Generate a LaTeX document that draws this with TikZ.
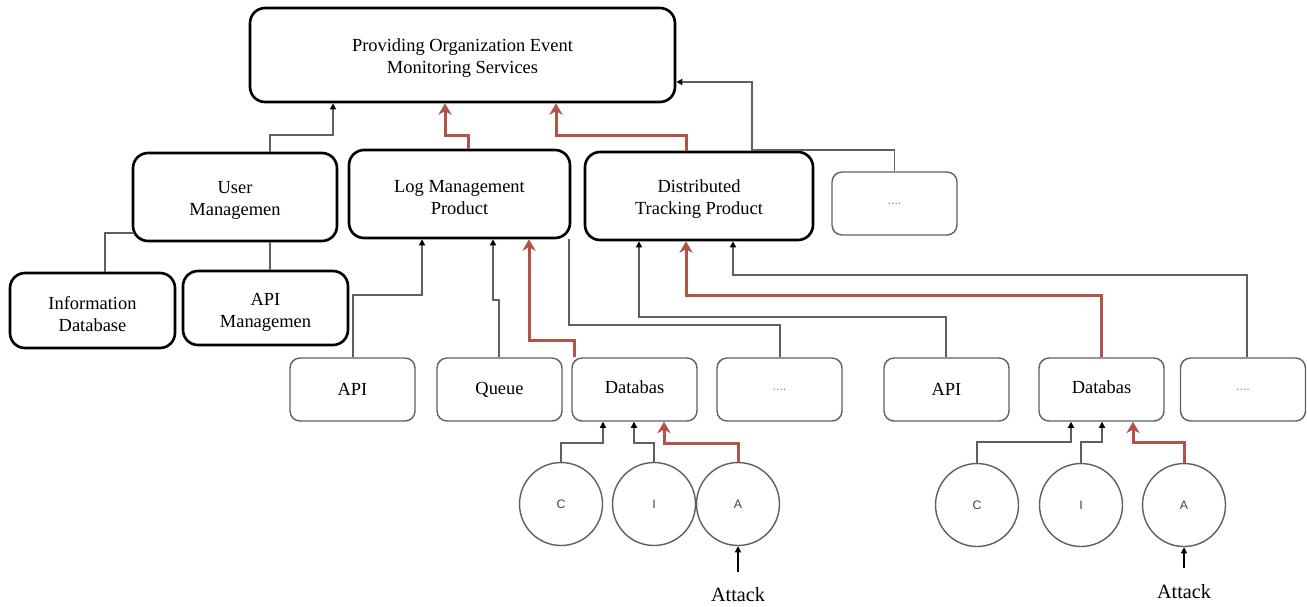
\documentclass[tikz,border=0pt]{standalone}
\usepackage{fontspec}
\setmainfont{Liberation Serif}
\newfontfamily\lsans{Liberation Sans}
\usetikzlibrary{arrows.meta}
\definecolor{redc}{RGB}{178,82,72}
\definecolor{grayl}{RGB}{95,95,95}
\newcommand{\tstrut}{\rule{0pt}{11pt}}
\tikzset{
 bigbox/.style={draw=black, line width=1.5pt, rounded corners=0.3cm, align=center, font=\fontsize{10.5}{12.5}\selectfont, inner sep=0pt},
 smallbox/.style={draw=grayl, line width=0.8pt, rounded corners=0.2cm, minimum width=2.5cm, minimum height=1.26cm, align=center, font=\fontsize{10.5}{12.5}\selectfont, inner sep=0pt},
 dotsbox/.style={smallbox, font=\lsans\fontsize{7}{8}\selectfont, text=gray},
 circ/.style={circle, draw=grayl, line width=0.8pt, minimum size=1.66cm, inner sep=0pt, font=\lsans\fontsize{7}{8}\selectfont, text=black!75},
 gline/.style={draw=grayl, line width=0.8pt},
 garrow/.style={gline, -{Triangle[length=3.5pt,width=3.5pt,color=black]}},
 rarrow/.style={draw=redc, line width=1.7pt, -{Stealth[length=6.5pt,width=7.5pt,inset=2pt]}},
 attackarrow/.style={draw=black, line width=0.7pt, -{Triangle[length=3.5pt,width=3.5pt]}},
 attacklabel/.style={font=\fontsize{11.5}{13}\selectfont},
}
\begin{document}
\begin{tikzpicture}[x=0.02cm, y=-0.02cm]
\useasboundingbox (0,0) rectangle (1307,606);
% top
\node[bigbox, minimum width=8.5cm, minimum height=1.88cm] (top) at (462.5,55) {\tstrut Providing Organization Event\\Monitoring Services};
% middle row
\node[bigbox, minimum width=4.08cm, minimum height=1.76cm] (user) at (235,197) {\tstrut User\\Managemen};
\node[bigbox, minimum width=4.42cm, minimum height=1.76cm] (log) at (459.5,194) {\tstrut Log Management\\Product};
\node[bigbox, minimum width=4.56cm, minimum height=1.76cm] (dist) at (699,196) {\tstrut Distributed\\Tracking Product};
\node[dotsbox] (dots1) at (894.5,203.5) {....};
% left lower
\node[bigbox, minimum width=3.3cm, minimum height=1.5cm] (info) at (92.5,310.5) {\tstrut Information\\Database};
\node[bigbox, minimum width=3.3cm, minimum height=1.48cm] (apim) at (265.5,308) {\rule{0pt}{12pt}API\\Managemen};
% bottom row
\node[smallbox] (api1) at (352.5,389.5) {API};
\node[smallbox] (queue) at (499.5,389.5) {Queue};
\node[smallbox] (db1) at (634.5,389.5) {\raisebox{3pt}{Databas}};
\node[dotsbox] (dots2) at (779.5,389.5) {....};
\node[smallbox] (api2) at (946.5,389.5) {API};
\node[smallbox] (db2) at (1101.5,389.5) {\raisebox{3pt}{Databas}};
\node[dotsbox] (dots3) at (1243,389.5) {....};
% circles
\node[circ] (c1) at (561,504) {C};
\node[circ] (i1) at (654,504) {I};
\node[circ] (a1) at (738,504) {A};
\node[circ] (c2) at (977,505) {C};
\node[circ] (i2) at (1081,505) {I};
\node[circ] (a2) at (1184,505) {A};
% attack
\node[attacklabel] (att1) at (738,595) {Attack};
\node[attacklabel] (att2) at (1184,592) {Attack};
\coordinate (s1) at (738,572);
\coordinate (s2) at (1184,568);
\draw[attackarrow] (s1) -- (a1.south);
\draw[attackarrow] (s2) -- (a2.south);
% connectors to top
\draw[garrow] (user.north -| 270,0) |- (333,135) -- (top.south -| 333,0);
\draw[rarrow] (log.north -| 468,0) |- (445,135) -- (top.south -| 445,0);
\draw[rarrow] (dist.north -| 686,0) |- (556,135) -- (top.south -| 556,0);
\draw[garrow] (dots1.north) |- (752,150) |- (top.east |- 0,82);
% user children
\draw[gline] (user.west |- 0,233) ++(2,0) -| (info.north -| 105,0);
\draw[gline] (user.south -| 270,0) -- (apim.north -| 270,0);
% to log
\draw[garrow] (api1.north -| 353,0) |- (422,295) -- (log.south -| 422,0);
\draw[garrow] (queue.north -| 499,0) |- (493,300) -- (log.south -| 493,0);
\draw[rarrow] (db1.north -| 574,0) |- (529,340) -- (log.south -| 529,0);
\draw[gline] (dots2.north -| 780,0) |- (569,325) -- (log.south -| 569,0);
% to dist
\draw[garrow] (api2.north -| 946,0) |- (639,317) -- (dist.south -| 639,0);
\draw[rarrow] (db2.north -| 1101,0) |- (686,295) -- (dist.south -| 686,0);
\draw[garrow] (dots3.north -| 1247,0) |- (733,275) -- (dist.south -| 733,0);
% circles to db
\draw[garrow] (c1.north) |- (603,443) -- (db1.south -| 603,0);
\draw[garrow] (i1.north) |- (634,443) -- (db1.south -| 634,0);
\draw[rarrow] (a1.north) |- (664,443) -- (db1.south -| 664,0);
\draw[garrow] (c2.north) |- (1071,442) -- (db2.south -| 1071,0);
\draw[garrow] (i2.north) |- (1102,442) -- (db2.south -| 1102,0);
\draw[rarrow] (a2.north) |- (1133,442) -- (db2.south -| 1133,0);
\end{tikzpicture}
\end{document}
